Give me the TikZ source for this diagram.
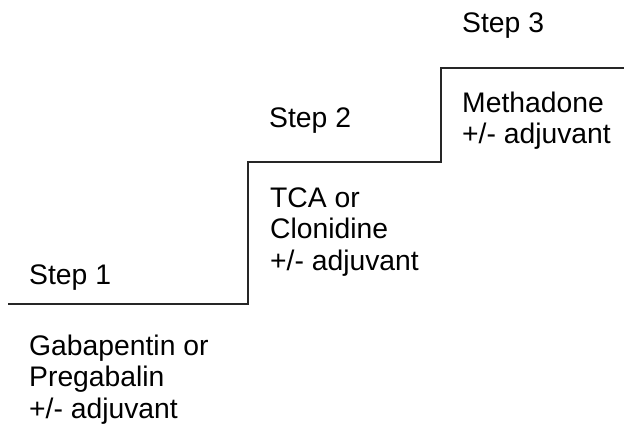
\documentclass[tikz,border=0pt]{standalone}
\usepackage{fontspec}
\setmainfont{Liberation Sans}
\begin{document}
\begin{tikzpicture}[x=1pt,y=-1pt,
  lbl/.style={anchor=base west,inner sep=0pt,align=left,font=\fontsize{28.3}{31.5}\selectfont},
  stair/.style={line width=1.3pt,draw=black!85}]
\useasboundingbox (0,0) rectangle (624,425);
\coordinate (a) at (8,304);
\coordinate (b) at (248,304);
\coordinate (c) at (248,162);
\coordinate (d) at (441,162);
\coordinate (e) at (441,68);
\coordinate (f) at (624,68);
\draw[stair] (a) -- (b) -- (c) -- (d) -- (e) -- (f);
\node[lbl] (s1) at (29,284) {Step 1};
\node[lbl] (s2) at (269,128) {Step 2};
\node[lbl] (s3) at (462,33) {Step 3};
\node[lbl] (t1) at (29,418) {Gabapentin or\\Pregabalin\\+/- adjuvant};
\node[lbl] (t2) at (270,270) {TCA or\\Clonidine\\+/- adjuvant};
\node[lbl] (t3) at (462,144) {Methadone\\+/- adjuvant};
\end{tikzpicture}
\end{document}
